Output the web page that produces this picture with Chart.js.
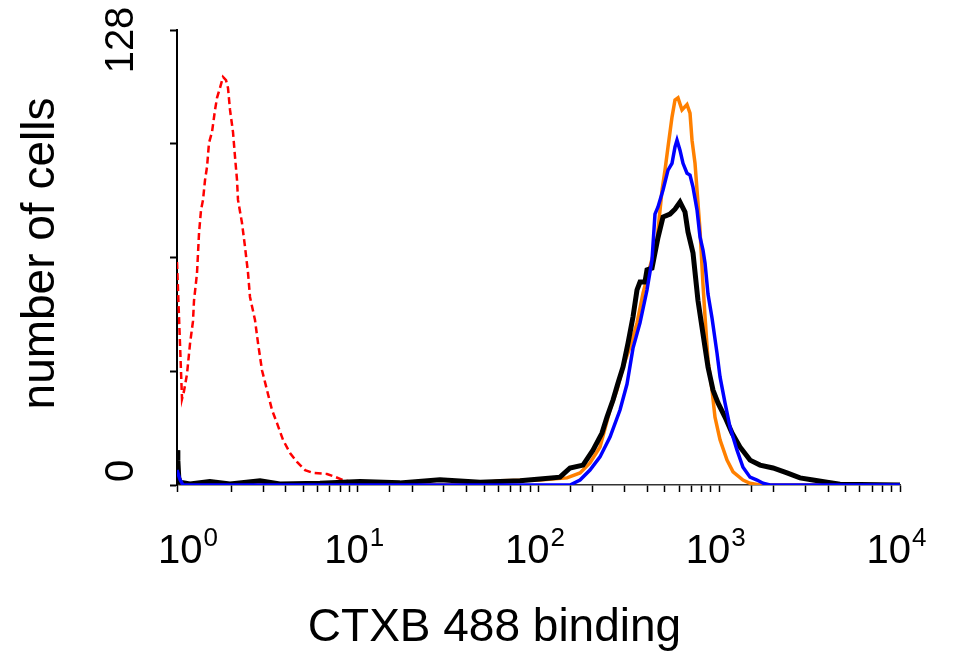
<!DOCTYPE html>
<html>
<head>
<meta charset="utf-8">
<script src="https://cdn.jsdelivr.net/npm/chart.js@4"></script>
<style>
  body { margin: 0; background: #fff; }
  #wrap { width: 953px; height: 652px; position: relative; }
</style>
</head>
<body>
<div id="wrap"><canvas id="histChart"></canvas></div>
<script>
// fluorescence (x, log) and cell counts (y)
const redX = [1.0, 1.066, 1.093, 1.136, 1.18, 1.226, 1.242, 1.29, 1.324, 1.358, 1.393, 1.429, 1.466, 1.503, 1.562, 1.623, 1.665, 1.729, 1.797, 1.867, 1.915, 1.965, 2.041, 2.094, 2.148, 2.175, 2.289, 2.378, 2.471, 2.534, 2.701, 2.807, 2.953, 3.147, 3.355, 3.575, 3.859, 4.219, 4.612, 5.108, 5.655, 6.759, 7.483, 8.287, 9.413, 10.97];
const redY = [62.7, 24.2, 26.4, 31.2, 39.7, 46.1, 51.9, 59.5, 70.9, 77.4, 80.2, 85.8, 89.5, 96.2, 99.3, 105.5, 108.9, 111.7, 114.8, 113.9, 111.7, 105.5, 99.3, 92.3, 85.8, 80.2, 73.7, 67.0, 59.7, 52.9, 46.4, 39.9, 32.3, 26.7, 21.1, 17.4, 12.7, 9.0, 6.5, 4.2, 3.4, 3.1, 2.3, 1.4, 0.8, 0];

const blackX = [1.0, 1.011, 1.023, 1.039, 1.18, 1.52, 1.965, 2.88, 3.71, 6.18, 10.3, 17.1, 28.5, 47.5, 79.0, 101.9, 131.5, 149.4, 176.3, 200.2, 224.5, 239.3, 258.4, 275.4, 293.5, 312.7, 333.3, 350.8, 364.4, 388.3, 398.4, 424.6, 458.2, 488.6, 534.0, 569.1, 606.5, 646.4, 671.5, 715.8, 762.6, 813.0, 866.5, 923.6, 984.2, 1076, 1177, 1302, 1480, 1681, 1983, 2370, 2797, 3302, 3946, 4656, 10000];
const blackY = [9.8, 7.0, 2.0, 0.8, 0.3, 1.0, 0.3, 1.2, 0.3, 0.5, 1.0, 0.6, 1.5, 0.8, 1.2, 1.7, 2.2, 4.8, 5.6, 9.8, 14.6, 19.1, 23.9, 28.7, 33.2, 39.9, 47.3, 54.9, 57.1, 57.1, 60.5, 61.0, 69.6, 75.4, 76.2, 77.6, 79.6, 76.8, 71.2, 65.3, 51.9, 42.5, 33.2, 26.7, 23.1, 19.1, 14.6, 10.7, 7.0, 5.6, 4.8, 3.4, 2.0, 1.4, 0.8, 0.2, 0];

const orangeX = [1.0, 1.039, 1.079, 40, 61.2, 101.9, 143.8, 169.7, 192.7, 218.9, 248.7, 271.9, 293.5, 320.8, 350.8, 378.6, 414.0, 452.4, 482.5, 501.1, 520.6, 547.8, 569.1, 591.3, 622.2, 663.1, 689.0, 706.8, 734.3, 753.3, 782.6, 813.0, 834.4, 866.5, 912.0, 947.3, 1010, 1104, 1192, 1353, 1480, 1681, 10000];
const orangeY = [5.0, 1.2, 0, 0, 1.2, 1.4, 2.0, 3.4, 6.2, 10.7, 21.1, 26.7, 33.2, 38.8, 45.6, 54.0, 61.5, 68.8, 83.0, 88.6, 95.1, 103.5, 108.3, 108.9, 105.5, 107.0, 104.6, 97.0, 90.5, 83.0, 71.7, 56.3, 47.3, 35.2, 26.7, 19.1, 12.7, 7.0, 3.7, 1.4, 0.5, 0, 0];

const blueX = [1.0, 1.039, 1.079, 149.4, 169.7, 192.7, 218.9, 248.7, 282.4, 308.8, 333.3, 364.4, 398.4, 424.6, 441.0, 458.2, 488.6, 520.6, 547.8, 569.1, 583.8, 606.5, 630.2, 663.1, 689.0, 715.8, 753.3, 782.6, 813.0, 834.4, 866.5, 912.0, 971.8, 1010, 1076, 1147, 1254, 1353, 1480, 1618, 1746, 1909, 10000];
const blueY = [4.2, 1.5, 0, 0, 1.4, 4.2, 7.9, 13.5, 21.1, 28.4, 38.5, 45.6, 54.9, 63.3, 76.2, 78.2, 83.0, 88.6, 90.5, 95.1, 97.0, 94.2, 90.5, 87.7, 87.2, 83.8, 77.4, 69.8, 66.1, 62.4, 53.7, 47.0, 37.1, 30.4, 23.1, 16.3, 9.8, 5.0, 2.2, 1.4, 0.5, 0, 0];

const decades = [0, 1, 2, 3, 4];
const yLabelValues = [0, 128];
const xTitle = "CTXB 488 binding";
const yTitle = "number of cells";

function toPoints(xs, ys) {
    return xs.map((v, i) => ({ x: v, y: ys[i] }));
}

const FONT = '"Liberation Sans", Arial, sans-serif';

// axis labels drawn rotated / with superscripts, placed from the chart's scales
const axisText = {
    id: "axisText",
    afterDraw(chart) {
        const ctx = chart.ctx;
        const xs = chart.scales.x;
        const ys = chart.scales.y;
        const area = chart.chartArea;
        ctx.save();
        ctx.fillStyle = "#000";
        ctx.textBaseline = "alphabetic";

        // y tick labels, rotated
        ctx.font = "40px " + FONT;
        ctx.textAlign = "center";
        yLabelValues.forEach(v => {
            let py = ys.getPixelForValue(v);
            py += (v === 0) ? -14 : 10;
            ctx.save();
            ctx.translate(133, py);
            ctx.rotate(-Math.PI / 2);
            ctx.fillText(String(v), 0, 0);
            ctx.restore();
        });

        // x tick labels 10^n
        ctx.textAlign = "left";
        decades.forEach(e => {
            const px = xs.getPixelForValue(Math.pow(10, e));
            ctx.font = "40px " + FONT;
            const w1 = ctx.measureText("10").width;
            ctx.font = "26px " + FONT;
            const w2 = ctx.measureText(String(e)).width;
            let left = px - (w1 + w2) / 2 - 4;
            if (left < 158) left = 158;
            ctx.font = "40px " + FONT;
            ctx.fillText("10", left, 563);
            ctx.font = "26px " + FONT;
            ctx.fillText(String(e), left + w1 + 1, 546);
        });

        // axis titles
        ctx.font = "46px " + FONT;
        ctx.textAlign = "center";
        ctx.fillText(xTitle, (area.left + area.right) / 2 - 44, 641);
        ctx.save();
        ctx.translate(54, (area.top + area.bottom) / 2 - 4);
        ctx.rotate(-Math.PI / 2);
        ctx.fillText(yTitle, 0, 0);
        ctx.restore();
        ctx.restore();
    }
};

const ctx = document.getElementById("histChart").getContext("2d");

new Chart(ctx, {
    type: "line",
    data: {
        datasets: [
            {
                label: "blue",
                data: toPoints(blueX, blueY),
                borderColor: "#0000ff",
                borderWidth: 3.5,
                order: 0
            },
            {
                label: "black",
                data: toPoints(blackX, blackY),
                borderColor: "#000000",
                borderWidth: 5,
                order: 1
            },
            {
                label: "orange",
                data: toPoints(orangeX, orangeY),
                borderColor: "#ff8000",
                borderWidth: 3.5,
                order: 2
            },
            {
                label: "red",
                data: toPoints(redX, redY),
                borderColor: "#ff0000",
                borderWidth: 2.5,
                borderDash: [7, 4],
                order: 3
            }
        ]
    },
    options: {
        responsive: true,
        maintainAspectRatio: false,
        animation: false,
        layout: { padding: { left: 0, top: 30, right: 53, bottom: 0 } },
        elements: {
            point: { radius: 0 },
            line: { tension: 0, fill: false, borderJoinStyle: "miter" }
        },
        plugins: {
            legend: { display: false },
            tooltip: { enabled: false }
        },
        scales: {
            x: {
                type: "logarithmic",
                min: 1,
                max: 10000,
                ticks: { display: false, autoSkip: false },
                grid: {
                    drawOnChartArea: false,
                    drawTicks: true,
                    tickLength: 7,
                    tickColor: "#000",
                    tickWidth: 1.5
                },
                border: { display: true, color: "#333", width: 1.5 },
                afterFit: scale => { scale.height = 167; }
            },
            y: {
                type: "linear",
                min: 0,
                max: 128,
                ticks: { display: false, stepSize: 32 },
                grid: {
                    drawOnChartArea: false,
                    drawTicks: true,
                    tickLength: 7,
                    tickColor: "#000",
                    tickWidth: 2
                },
                border: { display: true, color: "#000", width: 2 },
                afterFit: scale => { scale.width = 177; }
            }
        }
    },
    plugins: [axisText]
});
</script>
</body>
</html>
